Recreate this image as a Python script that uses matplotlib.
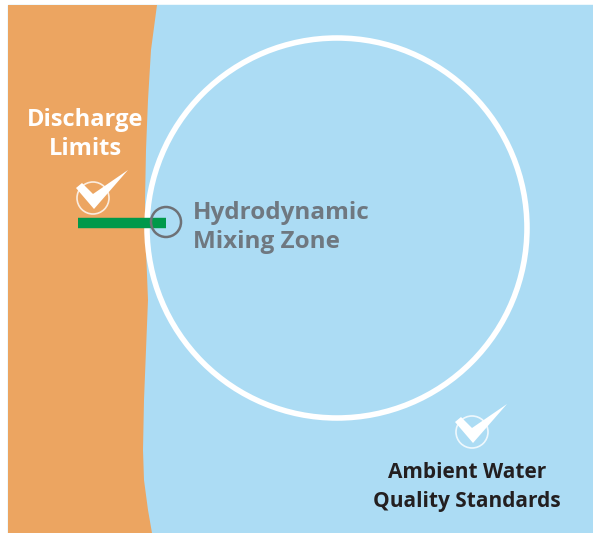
import matplotlib
matplotlib.use("Agg")
from matplotlib import pyplot as plt
from matplotlib.patches import Circle, Polygon, Rectangle
import numpy as np

# canvas size in pixels
W, H = 593, 533

# shoreline (x at given y)
shore_y = [5, 50, 100, 150, 200, 250, 300, 350, 400, 450, 480, 510, 533]
shore_x = [157, 151, 148, 146, 145, 146, 148, 146, 144, 143, 144, 148, 152]

# mixing zone ring
zone_center = (337, 228)
zone_radius = 190

# outfall pipe
pipe_x = [78, 166]
pipe_y = 223
outfall_center = (166, 222)
outfall_radius = 15

# check marks (circle centres)
check_centers = [(93, 198), (472, 432)]
check_shape = [(-17, -10), (-11, -15), (0, -4), (35, -28), (1, 11)]

labels = {
    "discharge": ["Discharge", "Limits"],
    "zone": ["Hydrodynamic", "Mixing Zone"],
    "ambient": ["Ambient Water", "Quality Standards"],
}

orange = "#eca561"
blue = "#acdcf4"
green = "#00994a"
gray = "#6e7176"
text_gray = "#6f7880"

fig = plt.figure(figsize=(W / 100, H / 100), dpi=100)
ax = fig.add_axes([0, 0, 1, 1])
ax.set_xlim(0, W)
ax.set_ylim(H, 0)
ax.axis("off")

# water and land
ax.add_patch(Rectangle((8, 5), W - 8, H - 5, color=blue, zorder=0))
land = [(8, 5)] + list(zip(shore_x, shore_y)) + [(8, H)]
ax.add_patch(Polygon(land, closed=True, color=orange, lw=0, zorder=1))

# mixing zone
ax.add_patch(Circle(zone_center, zone_radius, fill=False, ec="white", lw=4, zorder=2))

# pipe and outfall
ax.plot(pipe_x, [pipe_y, pipe_y], color=green, lw=7.5, solid_capstyle="butt", zorder=3)
ax.add_patch(Circle(outfall_center, outfall_radius, fill=False, ec=gray, lw=1.8, zorder=4))

# check marks
for cx, cy in check_centers:
    ax.add_patch(Circle((cx, cy), 16, fill=False, ec="white", lw=1.2, alpha=0.8, zorder=3))
    pts = [(cx + dx, cy + dy) for dx, dy in check_shape]
    ax.add_patch(Polygon(pts, closed=True, color="white", lw=0, zorder=4))

font = "Open Sans"
ax.text(85, 120, labels["discharge"][0], color="white", fontsize=17, fontweight="bold",
        family=font, ha="center", va="center")
ax.text(85, 149, labels["discharge"][1], color="white", fontsize=17, fontweight="bold",
        family=font, ha="center", va="center")

ax.text(193, 213, labels["zone"][0], color=text_gray, fontsize=17.5, fontweight="bold",
        family=font, ha="left", va="center")
ax.text(193, 242, labels["zone"][1], color=text_gray, fontsize=17.5, fontweight="bold",
        family=font, ha="left", va="center")

ax.text(467, 473, labels["ambient"][0], color="#231f20", fontsize=15, fontweight="bold",
        family=font, ha="center", va="center")
ax.text(467, 501, labels["ambient"][1], color="#231f20", fontsize=15, fontweight="bold",
        family=font, ha="center", va="center")

fig.savefig("out.png", dpi=100, facecolor="white")
